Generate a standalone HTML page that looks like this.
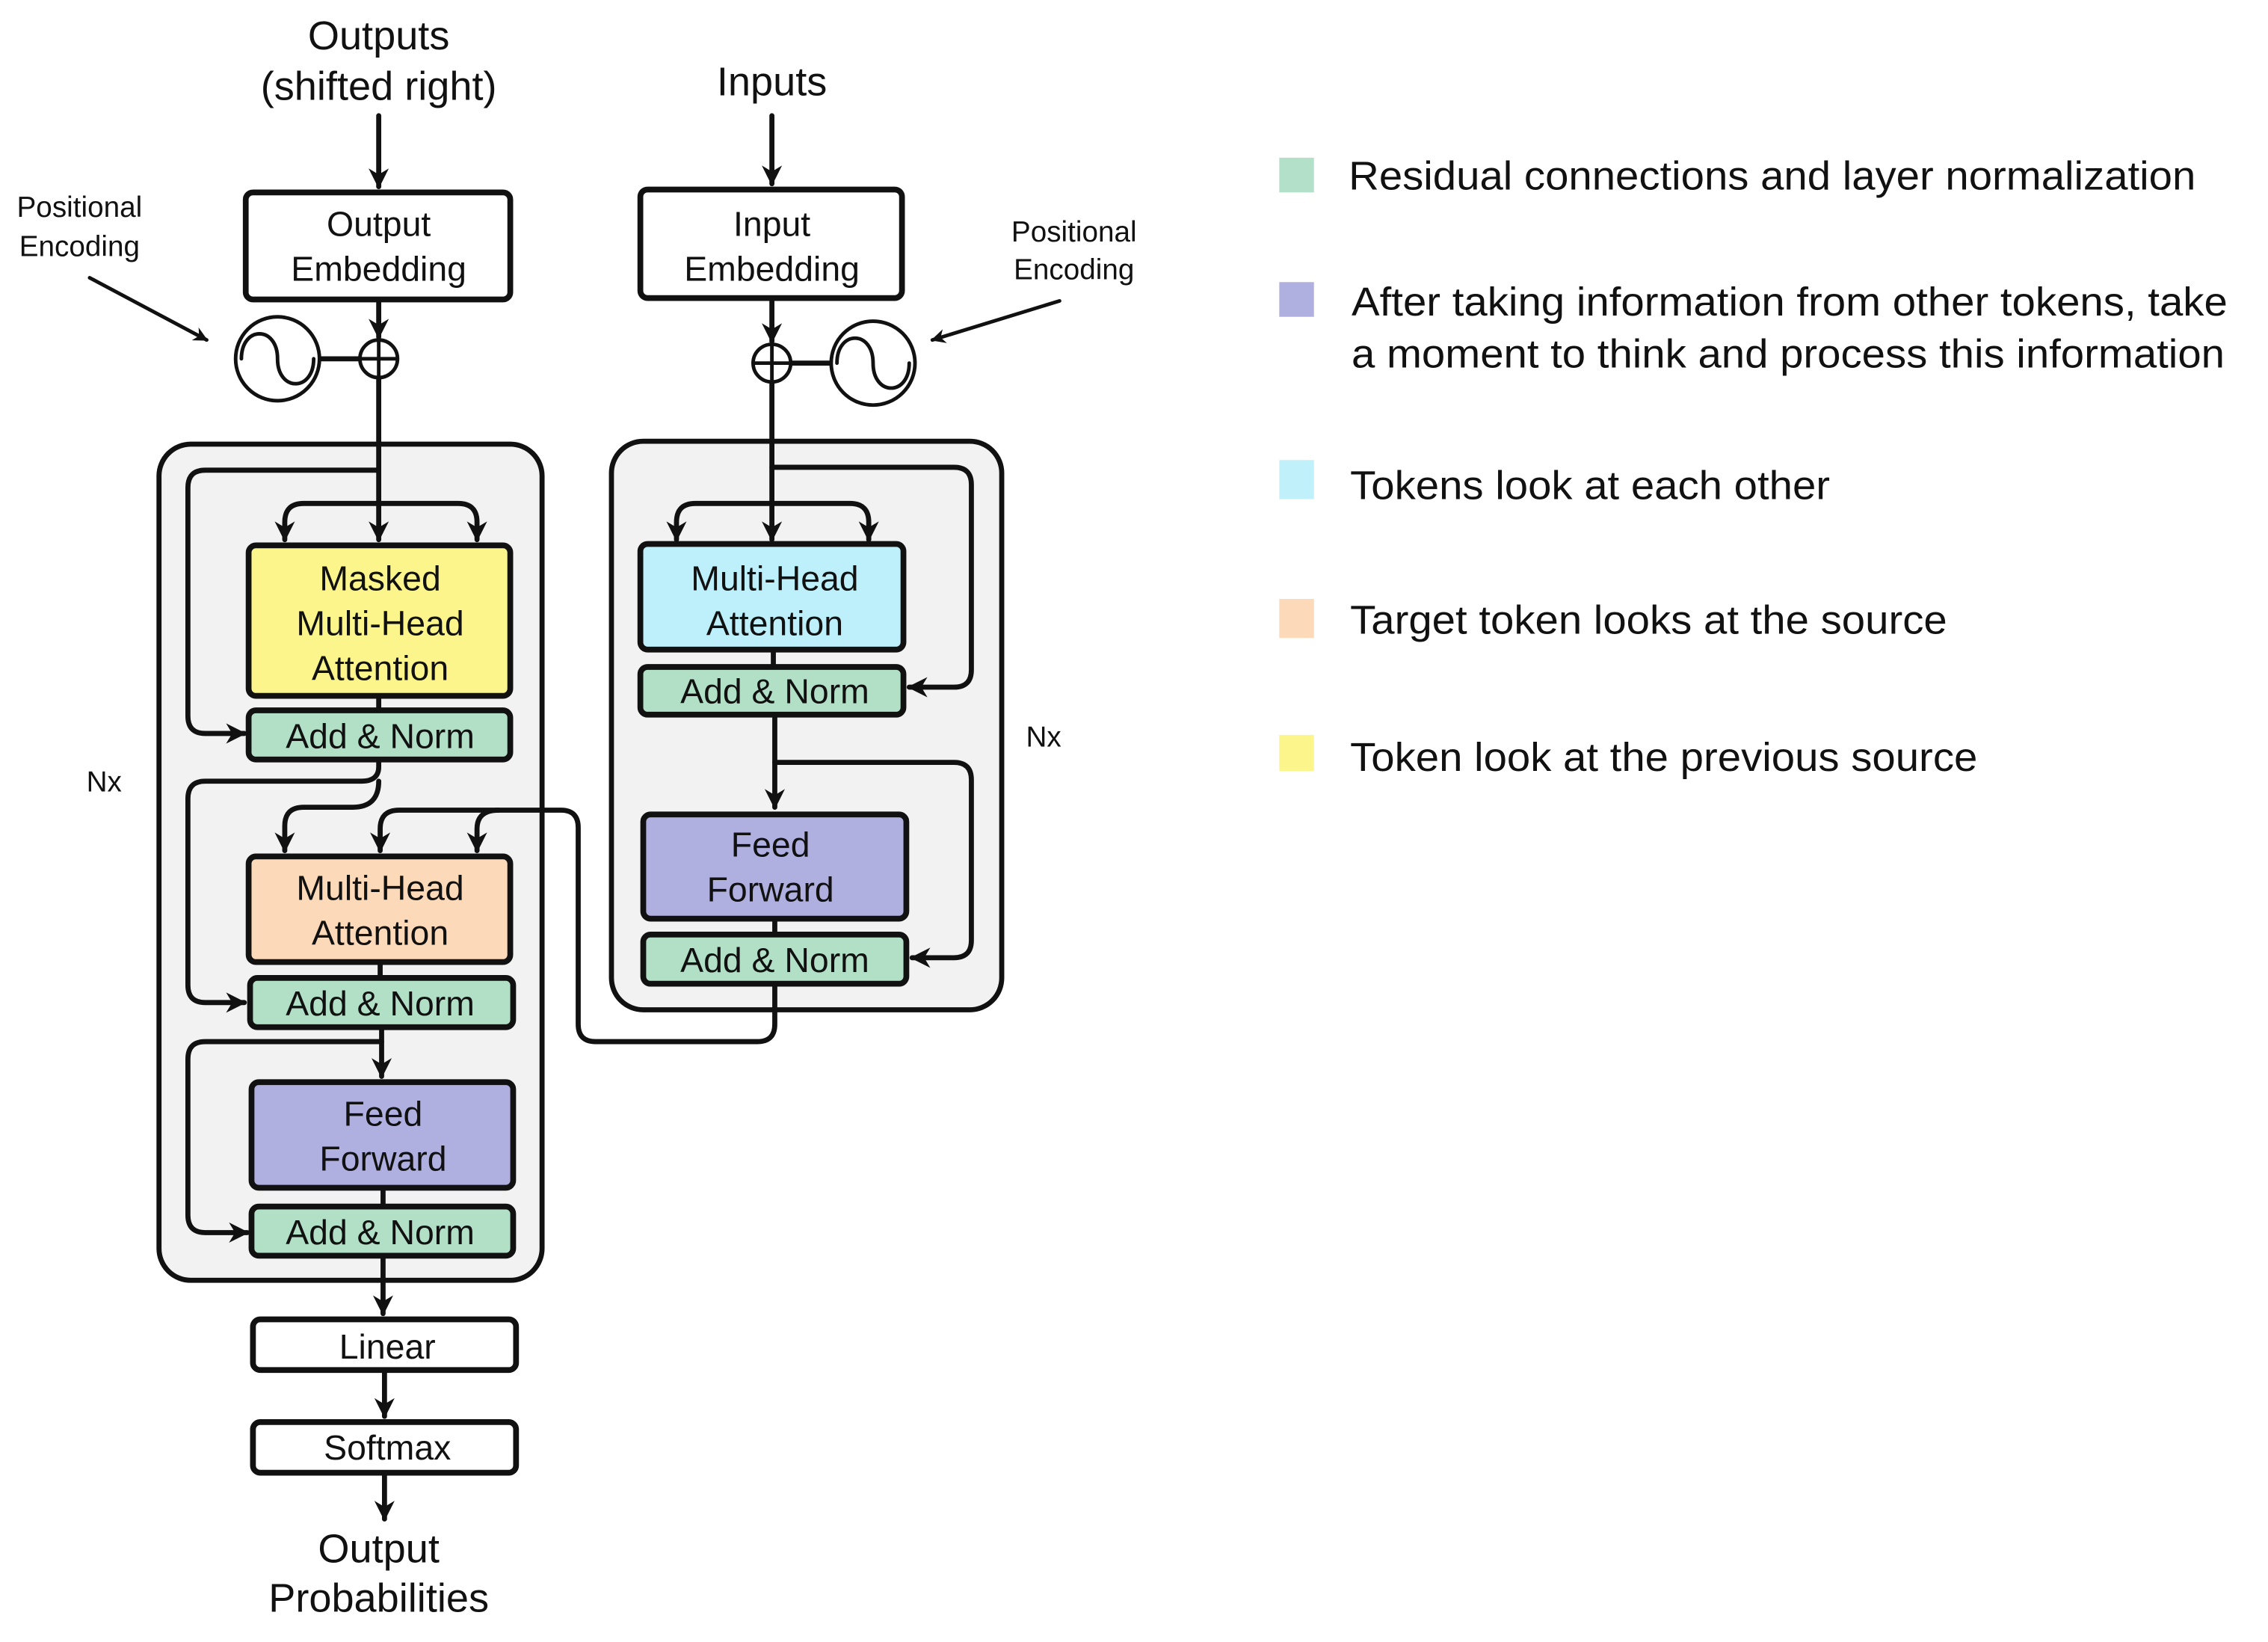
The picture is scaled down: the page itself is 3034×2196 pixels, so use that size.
<!DOCTYPE html>
<html><head><meta charset="utf-8"><style>
html,body{margin:0;padding:0;background:#fff;}
svg{display:block;}
text{font-family:"Liberation Sans",sans-serif;fill:#111;}
</style></head><body>
<svg width="3034" height="2196" viewBox="0 0 1569 1135" preserveAspectRatio="none" xmlns="http://www.w3.org/2000/svg">
<defs>
<marker id="a" viewBox="0 0 10 10" refX="9" refY="5" markerWidth="4" markerHeight="4" orient="auto"><path d="M0,0 L10,5 L0,10 L3,5 z" fill="#111"/></marker>
</defs>
<g stroke="#111" stroke-width="3.5" fill="none" stroke-linecap="round" stroke-linejoin="round">
<rect x="110" y="307" width="265" height="578" rx="22" fill="#f2f2f2"/>
<rect x="423" y="305" width="270" height="393" rx="22" fill="#f2f2f2"/>

<line x1="262" y1="80" x2="262" y2="129" marker-end="url(#a)"/>
<line x1="262" y1="207" x2="262" y2="233" marker-end="url(#a)"/>
<line x1="221" y1="248" x2="249" y2="248"/>
<line x1="262" y1="261" x2="262" y2="373" marker-end="url(#a)"/>
<path d="M262,325 H142 Q130,325 130,337 V495 Q130,507 142,507 H169" marker-end="url(#a)"/>
<path d="M262,348 H210 Q197,348 197,361 V373" marker-end="url(#a)"/>
<path d="M262,348 H317 Q330,348 330,361 V373" marker-end="url(#a)"/>
<line x1="262" y1="481" x2="262" y2="491"/>
<path d="M262,525 V530 Q262,540 250,540 H142 Q130,540 130,552 V681 Q130,693 142,693 H169" marker-end="url(#a)"/>
<path d="M262,540 Q262,558 244,558 H210 Q197,558 197,571 V588" marker-end="url(#a)"/>
<path d="M536,680 V708 Q536,720 524,720 H412 Q400,720 400,708 V572 Q400,560 388,560 H276 Q263,560 263,573 V588" marker-end="url(#a)"/>
<path d="M345,560 Q330,560 330,573 V588" marker-end="url(#a)"/>
<line x1="263" y1="665" x2="263" y2="676"/>
<line x1="264" y1="710" x2="264" y2="744" marker-end="url(#a)"/>
<path d="M264,720 H142 Q130,720 130,732 V840 Q130,852 142,852 H171" marker-end="url(#a)"/>
<line x1="265" y1="821" x2="265" y2="834"/>
<line x1="265" y1="868" x2="265" y2="908" marker-end="url(#a)"/>
<line x1="266" y1="947" x2="266" y2="979" marker-end="url(#a)"/>
<line x1="266" y1="1018" x2="266" y2="1050" marker-end="url(#a)"/>

<line x1="534" y1="80" x2="534" y2="127" marker-end="url(#a)"/>
<line x1="534" y1="206" x2="534" y2="236" marker-end="url(#a)"/>
<line x1="547" y1="251" x2="575" y2="251"/>
<line x1="534" y1="264" x2="534" y2="373" marker-end="url(#a)"/>
<path d="M534,323 H660 Q672,323 672,335 V463 Q672,475 660,475 H629" marker-end="url(#a)"/>
<path d="M534,348 H481 Q468,348 468,361 V373" marker-end="url(#a)"/>
<path d="M534,348 H588 Q601,348 601,361 V373" marker-end="url(#a)"/>
<line x1="535" y1="449" x2="535" y2="461"/>
<line x1="536" y1="494" x2="536" y2="558" marker-end="url(#a)"/>
<path d="M536,527 H660 Q672,527 672,539 V650 Q672,662 660,662 H631" marker-end="url(#a)"/>
<line x1="536" y1="635" x2="536" y2="646"/>

<line x1="62" y1="192" x2="143" y2="235" stroke-width="2.5" marker-end="url(#a)"/>
<line x1="733" y1="208" x2="645" y2="235" stroke-width="2.5" marker-end="url(#a)"/>

<g stroke-width="4">
<rect x="170" y="133" width="183" height="74" rx="5" fill="#fff"/>
<rect x="443" y="131" width="181" height="75" rx="5" fill="#fff"/>
<rect x="172" y="377" width="181" height="104" rx="5" fill="#fbf58c"/>
<rect x="172" y="491" width="181" height="34" rx="5" fill="#b2e0c6"/>
<rect x="172" y="592" width="181" height="73" rx="5" fill="#fcd9b8"/>
<rect x="173" y="676" width="182" height="34" rx="5" fill="#b2e0c6"/>
<rect x="174" y="748" width="181" height="73" rx="5" fill="#b0b0e0"/>
<rect x="174" y="834" width="181" height="34" rx="5" fill="#b2e0c6"/>
<rect x="175" y="912" width="182" height="35" rx="5" fill="#fff"/>
<rect x="175" y="983" width="182" height="35" rx="5" fill="#fff"/>
<rect x="443" y="376" width="182" height="73" rx="5" fill="#bdf0fa"/>
<rect x="443" y="461" width="182" height="33" rx="5" fill="#b2e0c6"/>
<rect x="445" y="563" width="182" height="72" rx="5" fill="#b0b0e0"/>
<rect x="445" y="646" width="182" height="34" rx="5" fill="#b2e0c6"/>
</g>

<circle cx="262" cy="248" r="13" fill="#fff" stroke-width="2.5"/>
<path d="M262,235 V261 M249,248 H275" stroke-width="2.5"/>
<circle cx="192" cy="248" r="29" fill="#fff" stroke-width="2.5"/>
<path d="M167,248 C167,225 192,225 192,248 C192,271 217,271 217,248" stroke-width="2.5"/>
<circle cx="534" cy="251" r="13" fill="#fff" stroke-width="2.5"/>
<path d="M534,238 V264 M521,251 H547" stroke-width="2.5"/>
<circle cx="604" cy="251" r="29" fill="#fff" stroke-width="2.5"/>
<path d="M579,251 C579,228 604,228 604,251 C604,274 629,274 629,251" stroke-width="2.5"/>
</g>

<g font-size="28" text-anchor="middle">
<text x="262" y="34">Outputs</text>
<text x="262" y="69">(shifted right)</text>
<text x="534" y="66">Inputs</text>
<text x="262" y="1080">Output</text>
<text x="262" y="1114">Probabilities</text>
</g>
<g font-size="24" text-anchor="middle">
<text x="262" y="163">Output</text>
<text x="262" y="194">Embedding</text>
<text x="534" y="163">Input</text>
<text x="534" y="194">Embedding</text>
<text x="263" y="408">Masked</text>
<text x="263" y="439">Multi-Head</text>
<text x="263" y="470">Attention</text>
<text x="263" y="517">Add &amp; Norm</text>
<text x="263" y="622">Multi-Head</text>
<text x="263" y="653">Attention</text>
<text x="263" y="702">Add &amp; Norm</text>
<text x="265" y="778">Feed</text>
<text x="265" y="809">Forward</text>
<text x="263" y="860">Add &amp; Norm</text>
<text x="268" y="939">Linear</text>
<text x="268" y="1009">Softmax</text>
<text x="536" y="408">Multi-Head</text>
<text x="536" y="439">Attention</text>
<text x="536" y="486">Add &amp; Norm</text>
<text x="533" y="592">Feed</text>
<text x="533" y="623">Forward</text>
<text x="536" y="672">Add &amp; Norm</text>
</g>
<g font-size="20" text-anchor="middle">
<text x="55" y="150">Positional</text>
<text x="55" y="177">Encoding</text>
<text x="743" y="167">Positional</text>
<text x="743" y="193">Encoding</text>
<text x="72" y="547">Nx</text>
<text x="722" y="516">Nx</text>
</g>

<rect x="885" y="109" width="24" height="24" fill="#b3e0c8"/>
<rect x="885" y="195" width="24" height="24" fill="#b0b0e0"/>
<rect x="885" y="318" width="24" height="27" fill="#c0f0fa"/>
<rect x="885" y="414" width="24" height="27" fill="#fcd9b9"/>
<rect x="885" y="508" width="24" height="25" fill="#fbf58c"/>
<g font-size="28">
<text x="933" y="131" textLength="586" lengthAdjust="spacingAndGlyphs">Residual connections and layer normalization</text>
<text x="935" y="218" textLength="606" lengthAdjust="spacingAndGlyphs">After taking information from other tokens, take</text>
<text x="935" y="254" textLength="604" lengthAdjust="spacingAndGlyphs">a moment to think and process this information</text>
<text x="934" y="345" textLength="332" lengthAdjust="spacingAndGlyphs">Tokens look at each other</text>
<text x="934" y="438" textLength="413" lengthAdjust="spacingAndGlyphs">Target token looks at the source</text>
<text x="934" y="533" textLength="434" lengthAdjust="spacingAndGlyphs">Token look at the previous source</text>
</g>
</svg>
</body></html>
